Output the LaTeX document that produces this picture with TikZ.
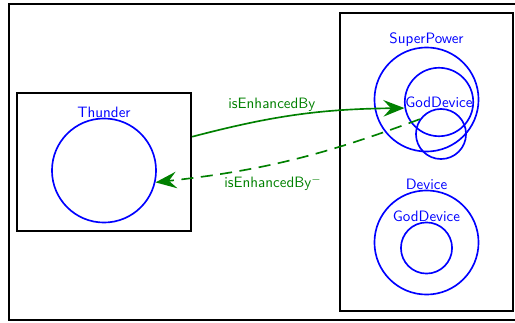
\documentclass[tikz,border=0pt]{standalone}
\usepackage{tikz}
\usetikzlibrary{arrows.meta}
\begin{document}
\begin{tikzpicture}[
    x=0.665pt,y=0.665pt,
    font=\sffamily,
    frame/.style={draw, line width=1.5pt, inner sep=0pt},
    concept/.style={draw=blue, circle, line width=1.1pt, inner sep=0pt, text=blue},
    conceptname/.style={text=blue, inner sep=0pt},
    relation/.style={
        draw={green!50!black}, line width=1.1pt,
        -{Stealth[length=14pt,width=11pt,inset=5pt]}
      },
    relname/.style={text=green!50!black}
  ]
  \useasboundingbox (0,0) rectangle (515,322);
  % 外枠
  \draw[line width=1.5pt] (9,2) rectangle (520,318);

  % 枠
  \node[frame, minimum width=115.7pt, minimum height=91.8pt] (thunderBox) at (104,160) {};
  \node[frame, minimum width=115pt, minimum height=198.2pt] (powerBox) at (426.5,160) {};

  % Thunder
  \node[concept, minimum size=69.2pt, label={[conceptname]above:Thunder}] (thunder) at (104,151.5) {};

  % SuperPower
  \node[concept, minimum size=69.2pt, label={[conceptname]above:SuperPower}] (superPower) at (426.5,222.5) {};
  \node[concept, minimum size=45.5pt] (godDevice) at (439,220) {GodDevice};
  \node[concept, minimum size=33.3pt] (godDeviceInv) at (441,188) {};

  % Device
  \node[concept, minimum size=69.2pt, label={[conceptname]above:Device}] (device) at (426.5,79.5) {};
  \node[concept, minimum size=34pt, label={[conceptname]above:GodDevice}] (godDeviceSub) at (426.5,74) {};

  % 関係
  \draw[relation] (thunderBox.16) to[bend left=7]
    node[relname, pos=0.37, above=1pt] {isEnhancedBy} (godDevice.190);
  \draw[relation, dash pattern=on 8pt off 5pt] (godDeviceInv.145) to[bend left=7]
    node[relname, pos=0.57, below=4pt] {isEnhancedBy$^-$} (thunder.-13);
\end{tikzpicture}
\end{document}
